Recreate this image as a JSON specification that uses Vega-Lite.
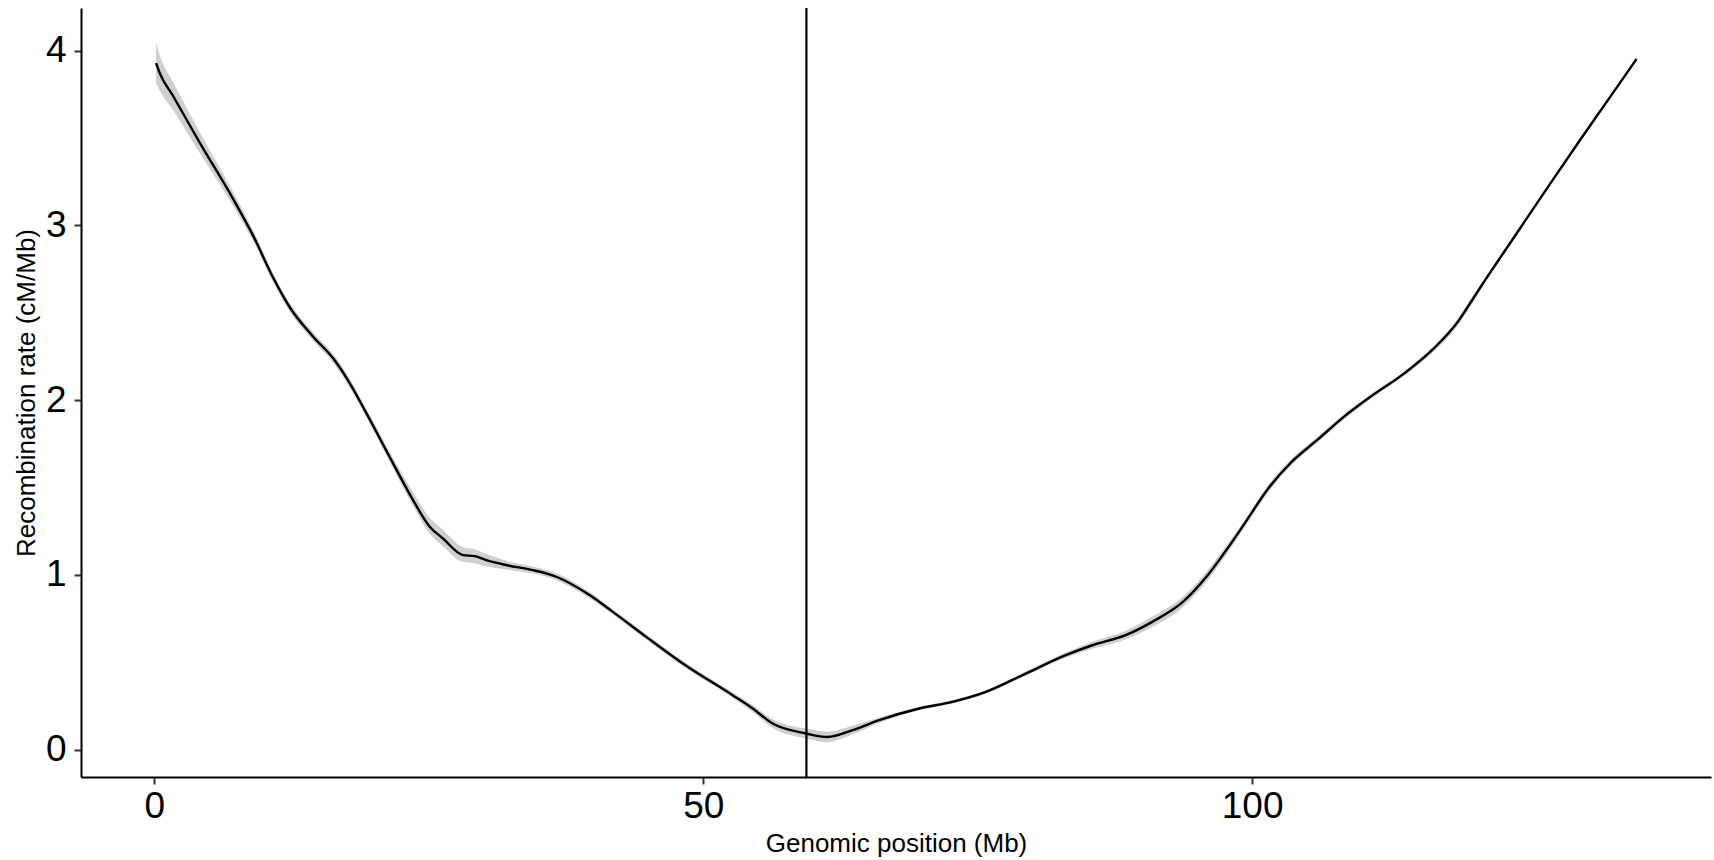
{
  "$schema": "https://vega.github.io/schema/vega-lite/v6.json",
  "autosize": {"type": "none"},
  "width": 1630,
  "height": 769,
  "padding": {"left": 81, "top": 8, "right": 3, "bottom": 83},
  "background": "white",
  "config": {
    "view": {"stroke": null},
    "font": "Liberation Sans",
    "axis": {
      "grid": false,
      "domainColor": "black",
      "domainWidth": 2,
      "tickColor": "#333333",
      "tickWidth": 2,
      "tickSize": 7,
      "labelFont": "Liberation Sans",
      "labelFontSize": 37,
      "labelColor": "black",
      "titleFont": "Liberation Sans",
      "titleFontSize": 26,
      "titleFontWeight": "normal",
      "titleColor": "black"
    }
  },
  "datasets": {
    "curve": [
      {"pos": 0.155, "rate": 3.929, "lo": 3.814, "hi": 4.044},
      {"pos": 0.519, "rate": 3.868, "lo": 3.768, "hi": 3.968},
      {"pos": 1.729, "rate": 3.738, "lo": 3.658, "hi": 3.818},
      {"pos": 4.158, "rate": 3.471, "lo": 3.411, "hi": 3.531},
      {"pos": 7.188, "rate": 3.150, "lo": 3.110, "hi": 3.190},
      {"pos": 9.008, "rate": 2.940, "lo": 2.910, "hi": 2.970},
      {"pos": 10.828, "rate": 2.700, "lo": 2.675, "hi": 2.725},
      {"pos": 12.348, "rate": 2.530, "lo": 2.505, "hi": 2.555},
      {"pos": 14.468, "rate": 2.363, "lo": 2.338, "hi": 2.388},
      {"pos": 16.288, "rate": 2.239, "lo": 2.214, "hi": 2.264},
      {"pos": 17.807, "rate": 2.096, "lo": 2.071, "hi": 2.121},
      {"pos": 19.327, "rate": 1.924, "lo": 1.899, "hi": 1.949},
      {"pos": 21.747, "rate": 1.638, "lo": 1.608, "hi": 1.668},
      {"pos": 23.567, "rate": 1.428, "lo": 1.393, "hi": 1.473},
      {"pos": 25.087, "rate": 1.275, "lo": 1.235, "hi": 1.325},
      {"pos": 26.297, "rate": 1.208, "lo": 1.163, "hi": 1.258},
      {"pos": 28.117, "rate": 1.113, "lo": 1.073, "hi": 1.158},
      {"pos": 29.181, "rate": 1.107, "lo": 1.067, "hi": 1.147},
      {"pos": 30.246, "rate": 1.084, "lo": 1.049, "hi": 1.119},
      {"pos": 32.065, "rate": 1.056, "lo": 1.031, "hi": 1.081},
      {"pos": 34.486, "rate": 1.027, "lo": 1.007, "hi": 1.047},
      {"pos": 36.615, "rate": 0.989, "lo": 0.969, "hi": 1.009},
      {"pos": 39.645, "rate": 0.884, "lo": 0.866, "hi": 0.902},
      {"pos": 41.765, "rate": 0.788, "lo": 0.773, "hi": 0.803},
      {"pos": 44.804, "rate": 0.645, "lo": 0.630, "hi": 0.660},
      {"pos": 48.135, "rate": 0.493, "lo": 0.478, "hi": 0.508},
      {"pos": 52.684, "rate": 0.311, "lo": 0.296, "hi": 0.326},
      {"pos": 54.504, "rate": 0.235, "lo": 0.215, "hi": 0.255},
      {"pos": 56.324, "rate": 0.149, "lo": 0.124, "hi": 0.174},
      {"pos": 59.363, "rate": 0.092, "lo": 0.064, "hi": 0.120},
      {"pos": 61.328, "rate": 0.072, "lo": 0.042, "hi": 0.102},
      {"pos": 63.603, "rate": 0.111, "lo": 0.086, "hi": 0.136},
      {"pos": 66.032, "rate": 0.168, "lo": 0.153, "hi": 0.183},
      {"pos": 69.672, "rate": 0.235, "lo": 0.225, "hi": 0.245},
      {"pos": 72.702, "rate": 0.273, "lo": 0.263, "hi": 0.283},
      {"pos": 75.741, "rate": 0.330, "lo": 0.320, "hi": 0.340},
      {"pos": 79.381, "rate": 0.435, "lo": 0.423, "hi": 0.447},
      {"pos": 83.021, "rate": 0.540, "lo": 0.525, "hi": 0.555},
      {"pos": 85.441, "rate": 0.597, "lo": 0.577, "hi": 0.617},
      {"pos": 88.480, "rate": 0.655, "lo": 0.630, "hi": 0.680},
      {"pos": 90.901, "rate": 0.731, "lo": 0.701, "hi": 0.761},
      {"pos": 93.69, "rate": 0.845, "lo": 0.815, "hi": 0.875},
      {"pos": 95.84, "rate": 0.989, "lo": 0.959, "hi": 1.019},
      {"pos": 97.97, "rate": 1.170, "lo": 1.145, "hi": 1.195},
      {"pos": 99.70, "rate": 1.330, "lo": 1.310, "hi": 1.350},
      {"pos": 101.3, "rate": 1.480, "lo": 1.460, "hi": 1.500},
      {"pos": 103.5, "rate": 1.640, "lo": 1.622, "hi": 1.658},
      {"pos": 105.99, "rate": 1.775, "lo": 1.760, "hi": 1.790},
      {"pos": 108.27, "rate": 1.900, "lo": 1.885, "hi": 1.915},
      {"pos": 110.8, "rate": 2.020, "lo": 2.008, "hi": 2.032},
      {"pos": 113.8, "rate": 2.150, "lo": 2.138, "hi": 2.162},
      {"pos": 116.46, "rate": 2.290, "lo": 2.275, "hi": 2.305},
      {"pos": 118.75, "rate": 2.449, "lo": 2.429, "hi": 2.469},
      {"pos": 120.05, "rate": 2.573, "lo": 2.553, "hi": 2.593},
      {"pos": 121.0, "rate": 2.665, "lo": 2.650, "hi": 2.680},
      {"pos": 124.0, "rate": 2.945, "lo": 2.933, "hi": 2.957},
      {"pos": 127.0, "rate": 3.225, "lo": 3.215, "hi": 3.235},
      {"pos": 130.0, "rate": 3.500, "lo": 3.490, "hi": 3.510},
      {"pos": 133.0, "rate": 3.770, "lo": 3.760, "hi": 3.780},
      {"pos": 135.01, "rate": 3.952, "lo": 3.940, "hi": 3.964}
    ],
    "centromere": [{"pos": 59.4}]
  },
  "layer": [
    {
      "data": {"name": "curve"},
      "mark": {"type": "area", "color": "#cfcfcf", "interpolate": "monotone", "opacity": 1},
      "encoding": {
        "x": {"field": "pos", "type": "quantitative", "scale": {"domain": [-6.68, 141.8], "nice": false, "zero": false},
          "axis": {"values": [0, 50, 100], "format": "d", "labelPadding": 4, "title": "Genomic position (Mb)", "titlePadding": 6}},
        "y": {"field": "lo", "type": "quantitative", "scale": {"domain": [-0.157, 4.244], "nice": false, "zero": false},
          "axis": {"values": [0, 1, 2, 3, 4], "format": "d", "labelPadding": 8, "title": "Recombination rate (cM/Mb)", "titlePadding": 6}},
        "y2": {"field": "hi"}
      }
    },
    {
      "data": {"name": "curve"},
      "mark": {"type": "line", "color": "black", "strokeWidth": 2.4, "interpolate": "monotone"},
      "encoding": {
        "x": {"field": "pos", "type": "quantitative"},
        "y": {"field": "rate", "type": "quantitative"}
      }
    },
    {
      "data": {"name": "centromere"},
      "mark": {"type": "rule", "color": "black", "strokeWidth": 2.2},
      "encoding": {
        "x": {"field": "pos", "type": "quantitative"}
      }
    }
  ]
}
